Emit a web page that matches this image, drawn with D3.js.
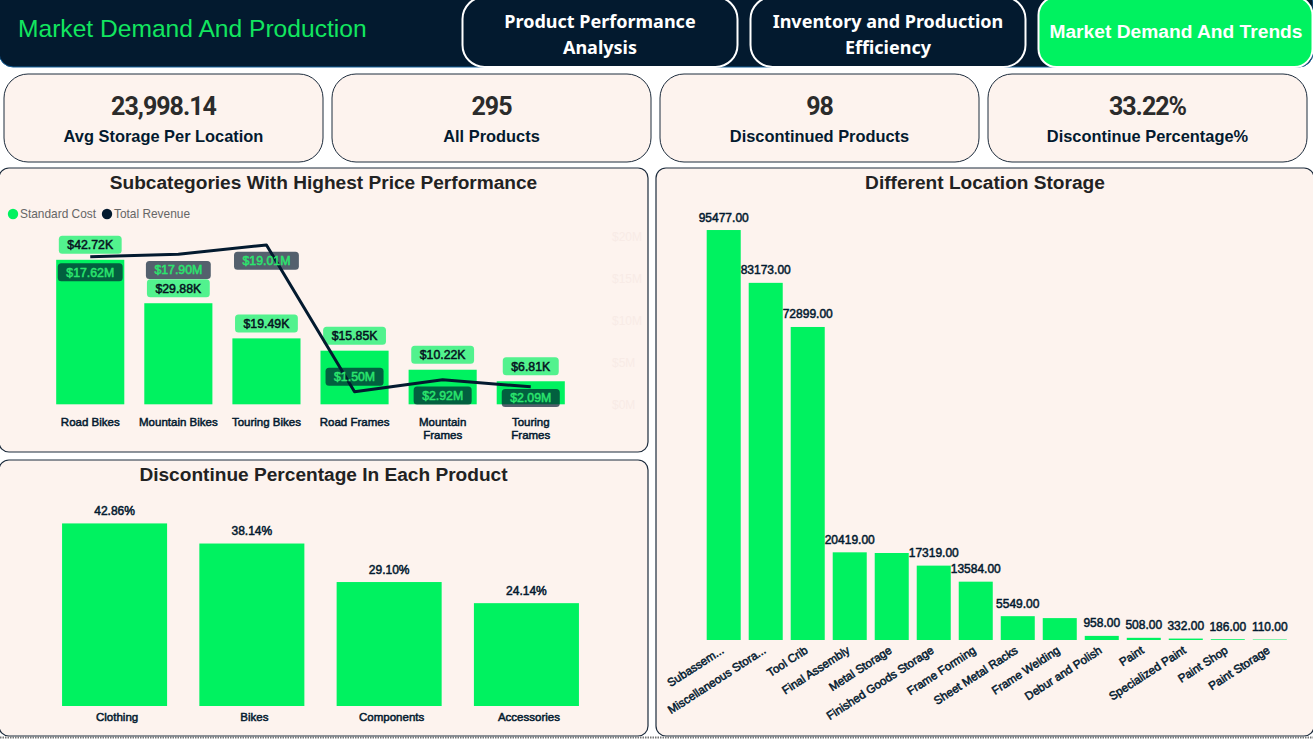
<!DOCTYPE html>
<html>
<head>
<meta charset="utf-8">
<script src="https://cdn.jsdelivr.net/npm/d3@7"></script>
<style>
  body { margin: 0; background: #fff; overflow: hidden; }
  text { font-family: "Liberation Sans", Arial, sans-serif; }
</style>
</head>
<body>
<div id="dash"></div>
<script>
// Header and KPI cards
const pageTitle = "Market Demand And Production";
const navButtons = [["Product Performance", "Analysis"], ["Inventory and Production", "Efficiency"], ["Market Demand And Trends"]];
const kpiValues = ["23,998.14", "295", "98", "33.22%"];
const kpiLabels = ["Avg Storage Per Location", "All Products", "Discontinued Products", "Discontinue Percentage%"];

// Subcategories chart
const subcats = ["Road Bikes", "Mountain Bikes", "Touring Bikes", "Road Frames", "Mountain Frames", "Touring Frames"];
const standardCost = [42.72, 29.88, 19.49, 15.85, 10.22, 6.81]; // thousands
const totalRevenue = [17.62, 17.90, 19.01, 1.50, 2.92, 2.09]; // millions
const revenueTicks = [0, 5, 10, 15, 20];

// Discontinue chart
const products = ["Clothing", "Bikes", "Components", "Accessories"];
const discontinuePct = [42.86, 38.14, 29.10, 24.14];

// Location chart (Metal Storage and Frame Welding have no label in the picture, so those two are estimates)
const locations = ["Subassem...", "Miscellaneous Stora...", "Tool Crib", "Final Assembly", "Metal Storage", "Finished Goods Storage", "Frame Forming", "Sheet Metal Racks", "Frame Welding", "Debur and Polish", "Paint", "Specialized Paint", "Paint Shop", "Paint Storage"];
const storage = [95477, 83173, 72899, 20419, 20260, 17319, 13584, 5549, 5100, 958, 508, 332, 186, 110];
const hiddenStorageLabels = ["Metal Storage", "Frame Welding"];

const navy = "#031a2f", green = "#00f260", cardFill = "#fdf3ee", cardLine = "#1d2c3d";

const svg = d3.select("#dash").append("svg")
  .attr("width", 1313)
  .attr("height", 748)
  .style("display", "block");

// Slightly heavier than regular, the report font sits between regular and bold
function medium(sel, color) {
  sel.attr("font-weight", "normal")
    .attr("fill", color)
    .attr("stroke", color)
    .attr("stroke-width", 0.5);
}

// Header band
svg.append("rect")
  .attr("x", -1).attr("y", -12).attr("width", 1314).attr("height", 79).attr("rx", 14)
  .attr("fill", navy).attr("stroke", "#15609a").attr("stroke-width", 1);

svg.append("text")
  .attr("x", 18).attr("y", 37)
  .attr("font-size", 24.6).attr("fill", "#12e65f")
  .text(pageTitle);

const btn = svg.selectAll(".nav").data(navButtons).join("g")
  .attr("class", "nav")
  .attr("transform", (d, i) => `translate(${462.5 + i * 288},-3)`);

btn.append("rect")
  .attr("width", (d, i) => i == 2 ? 274 : 275).attr("height", 70).attr("rx", (d, i) => i == 2 ? 18 : 22)
  .attr("fill", (d, i) => i == 2 ? green : navy)
  .attr("stroke", "#fff").attr("stroke-width", 2);

btn.each(function(d, i) {
  d3.select(this).selectAll("text").data(d).join("text")
    .attr("x", 137.5)
    .attr("y", (t, j) => i == 2 ? 41 : 31 + j * 26)
    .attr("text-anchor", "middle")
    .attr("fill", "#fff")
    .attr("font-weight", "bold")
    .attr("font-size", i == 2 ? 19.2 : 18)
    .style("font-family", i == 2 ? null : '"Noto Sans", sans-serif')
    .text(t => t);
});

// KPI cards
const kpi = svg.selectAll(".kpi").data(kpiValues).join("g")
  .attr("class", "kpi")
  .attr("transform", (d, i) => `translate(${4 + i * 328},74)`);

kpi.append("rect")
  .attr("width", 319).attr("height", 88).attr("rx", 24)
  .attr("fill", cardFill).attr("stroke", cardLine);

kpi.append("text")
  .attr("x", 159.5).attr("y", 41)
  .attr("text-anchor", "middle")
  .attr("font-size", 25).attr("font-weight", "bold").attr("fill", "#2b2b2b")
  .attr("letter-spacing", -1)
  .style("font-family", "Roboto, sans-serif")
  .text(d => d);

kpi.append("text")
  .attr("x", 159.5).attr("y", 68)
  .attr("text-anchor", "middle")
  .attr("font-size", 16.4).attr("font-weight", "bold").attr("fill", navy)
  .text((d, i) => kpiLabels[i]);

function card(x, y, w, h, title) {
  const g = svg.append("g");
  g.append("rect")
    .attr("x", x).attr("y", y).attr("width", w).attr("height", h).attr("rx", 10)
    .attr("fill", cardFill).attr("stroke", cardLine).attr("stroke-width", 1.2);
  g.append("text")
    .attr("x", x + w / 2).attr("y", y + 21)
    .attr("text-anchor", "middle")
    .attr("font-size", 19.1).attr("font-weight", "bold").attr("fill", "#222")
    .text(title);
  return g;
}

// Draws a category axis with no line or ticks, wrapped onto two lines when needed
function catAxis(g, x, y, size, wrap) {
  const a = g.append("g")
    .attr("transform", `translate(0,${y})`)
    .call(d3.axisBottom(x).tickSize(0).tickPadding(0));
  a.select(".domain").remove();
  a.selectAll("text")
    .attr("font-size", size)
    .style("font-family", '"Liberation Sans", Arial, sans-serif')
    .call(medium, navy);
  if (wrap) {
    a.selectAll("text").each(function(d) {
      const words = d.split(" ");
      if (!d.startsWith("Mountain F") && !d.startsWith("Touring F")) return;
      const t = d3.select(this).text(null);
      words.forEach((w, i) => t.append("tspan").attr("x", 0).attr("dy", i ? 13 : "0.71em").text(w));
    });
  }
  return a;
}

// Subcategories chart
const c1 = card(-1, 168, 649, 284, "Subcategories With Highest Price Performance");

const legend = c1.selectAll(".leg").data(["Standard Cost", "Total Revenue"]).join("g")
  .attr("class", "leg")
  .attr("transform", (d, i) => `translate(${13 + i * 94},214)`);
legend.append("circle").attr("r", 5.2).attr("fill", (d, i) => i ? navy : green);
legend.append("text")
  .attr("x", 7).attr("y", 4.2)
  .attr("font-size", 11.9).attr("fill", "#666")
  .text(d => d);

const x1 = d3.scaleBand().domain(subcats).range([46.5, 574.5]).paddingInner(0.227).paddingOuter(0.11);
const yCost = d3.scaleLinear().domain([0, 49.55]).range([404.3, 236.7]);
const yRev = d3.scaleLinear().domain([0, 20]).range([404.3, 236.7]);

const revAxis = c1.append("g")
  .attr("transform", "translate(610,0)")
  .call(d3.axisRight(yRev).tickValues(revenueTicks).tickSize(0).tickPadding(2).tickFormat(d => `$${d}M`));
revAxis.select(".domain").remove();
revAxis.selectAll("text")
  .attr("fill", "#f8ebe6").attr("font-size", 12)
  .style("font-family", '"Liberation Sans", Arial, sans-serif');

c1.selectAll(".bar").data(subcats).join("rect")
  .attr("class", "bar")
  .attr("x", d => x1(d))
  .attr("width", x1.bandwidth())
  .attr("y", (d, i) => yCost(standardCost[i]))
  .attr("height", (d, i) => yCost(0) - yCost(standardCost[i]))
  .attr("fill", green);

catAxis(c1, x1, 418, 11.5, true);

// Puts a text on a rounded pill that is sized from the text
function pill(g, label, cx, cy, fill, color) {
  const p = g.append("g");
  const r = p.append("rect");
  const t = p.append("text")
    .attr("x", cx).attr("y", cy + 4.4)
    .attr("text-anchor", "middle")
    .attr("font-size", 12.3)
    .call(medium, color)
    .text(label);
  const w = t.node().getComputedTextLength() + 17;
  r.attr("x", cx - w / 2).attr("y", cy - 9).attr("width", w).attr("height", 18).attr("rx", 3.5)
    .attr("fill", fill).attr("fill-opacity", 0.68);
}

subcats.forEach((d, i) => {
  pill(c1, `$${standardCost[i].toFixed(2)}K`, x1(d) + x1.bandwidth() / 2, yCost(standardCost[i]) - 15, green, "#06131f");
});

const revLine = d3.line()
  .x((d, i) => x1(subcats[i]) + x1.bandwidth() / 2)
  .y(d => yRev(d));

c1.append("path")
  .datum(totalRevenue)
  .attr("d", revLine)
  .attr("fill", "none")
  .attr("stroke", navy)
  .attr("stroke-width", 3)
  .attr("stroke-linejoin", "round");

subcats.forEach((d, i) => {
  // the Road Frames label sits above its point, the rest below, kept inside the plot
  const cy = i == 3 ? yRev(totalRevenue[i]) - 15 : Math.min(yRev(totalRevenue[i]) + 15.7, 398);
  pill(c1, `$${totalRevenue[i].toFixed(2)}M`, x1(d) + x1.bandwidth() / 2, cy, navy, "#2be56e");
});

// Discontinue chart
const c2 = card(-1, 460, 649, 276, "Discontinue Percentage In Each Product");

const x2 = d3.scaleBand().domain(products).range([46, 595]).paddingInner(0.235).paddingOuter(0.117);
const y2 = d3.scaleLinear().domain([0, 50]).range([706, 493]);

c2.selectAll(".bar").data(products).join("rect")
  .attr("class", "bar")
  .attr("x", d => x2(d))
  .attr("width", x2.bandwidth())
  .attr("y", (d, i) => y2(discontinuePct[i]))
  .attr("height", (d, i) => y2(0) - y2(discontinuePct[i]))
  .attr("fill", green);

c2.selectAll(".val").data(products).join("text")
  .attr("class", "val")
  .attr("x", d => x2(d) + x2.bandwidth() / 2)
  .attr("y", (d, i) => y2(discontinuePct[i]) - 8.5)
  .attr("text-anchor", "middle")
  .attr("font-size", 12)
  .call(medium, navy)
  .text((d, i) => discontinuePct[i].toFixed(2) + "%");

catAxis(c2, x2, 713, 11.5, false)
  .selectAll("text").attr("dx", 2.5);

// Location chart
const c3 = card(656, 168, 658, 568, "Different Location Storage");

const x3 = d3.scaleBand().domain(locations).range([702.5, 1291]).paddingInner(0.19).paddingOuter(0.1);
const y3 = d3.scaleLinear().domain([0, 100000]).range([640, 210.6]);

c3.selectAll(".bar").data(locations).join("rect")
  .attr("class", "bar")
  .attr("x", d => x3(d))
  .attr("width", x3.bandwidth())
  .attr("y", (d, i) => y3(storage[i]))
  .attr("height", (d, i) => y3(0) - y3(storage[i]))
  .attr("fill", green);

c3.selectAll(".val").data(locations.filter(d => !hiddenStorageLabels.includes(d))).join("text")
  .attr("class", "val")
  .attr("x", d => x3(d) + x3.bandwidth() / 2)
  .attr("y", d => y3(storage[locations.indexOf(d)]) - 8.5)
  .attr("text-anchor", "middle")
  .attr("font-size", 12)
  .call(medium, navy)
  .text(d => storage[locations.indexOf(d)].toFixed(2));

const a3 = catAxis(c3, x3, 648, 11.6, false);
a3.selectAll("text")
  .attr("text-anchor", "end")
  .attr("dy", "0.35em")
  .attr("x", -1.5)
  .attr("y", 0)
  .attr("transform", "rotate(-33)");

// Dotted edge under the report
svg.append("line")
  .attr("x1", 0).attr("x2", 1313).attr("y1", 737.5).attr("y2", 737.5)
  .attr("stroke", "#777").attr("stroke-width", 2).attr("stroke-dasharray", "1.5 1");
</script>
</body>
</html>
